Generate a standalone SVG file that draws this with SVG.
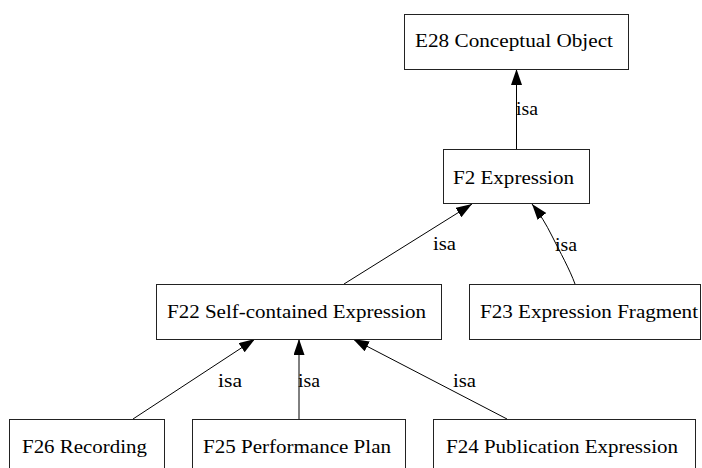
<svg xmlns="http://www.w3.org/2000/svg" width="702" height="468" viewBox="0 0 702 468">
<style>
  .box { fill: #ffffff; stroke: #222222; stroke-width: 1; }
  .lbl { font-family: "Liberation Serif", "Times New Roman", serif; font-size: 19.5px; fill: #000000; }
  .edge { fill: none; stroke: #000000; stroke-width: 1; }
  .isa { font-family: "Liberation Serif", "Times New Roman", serif; font-size: 19.5px; fill: #000000; }
</style>
<defs>
  <marker id="arr" markerUnits="userSpaceOnUse" markerWidth="17" markerHeight="12" refX="16" refY="5.5" orient="auto">
    <path d="M0,0 L16,5.5 L0,11 z" fill="#000000"/>
  </marker>
</defs>
<rect width="702" height="468" fill="#ffffff"/>
<g id="connectors">
  <line class="edge" x1="516.5" y1="149" x2="516.5" y2="69" marker-end="url(#arr)"/>
  <text class="isa" x="516" y="115" textLength="22" lengthAdjust="spacingAndGlyphs">isa</text>
  <line class="edge" x1="344" y1="284" x2="472" y2="204" marker-end="url(#arr)"/>
  <text class="isa" x="433" y="250" textLength="23" lengthAdjust="spacingAndGlyphs">isa</text>
  <path class="edge" d="M575,284 C570,270 560,252 552,236 C546,224 540,214 532,204" marker-end="url(#arr)"/>
  <text class="isa" x="555" y="251" textLength="22" lengthAdjust="spacingAndGlyphs">isa</text>
  <line class="edge" x1="133" y1="419" x2="255" y2="339" marker-end="url(#arr)"/>
  <text class="isa" x="218" y="387" textLength="24" lengthAdjust="spacingAndGlyphs">isa</text>
  <line class="edge" x1="299" y1="419" x2="299" y2="339" marker-end="url(#arr)"/>
  <text class="isa" x="298" y="387" textLength="22" lengthAdjust="spacingAndGlyphs">isa</text>
  <line class="edge" x1="507" y1="419" x2="353" y2="339" marker-end="url(#arr)"/>
  <text class="isa" x="453" y="387" textLength="23" lengthAdjust="spacingAndGlyphs">isa</text>
</g>
<g id="E28">
  <rect class="box" x="404.5" y="14.5" width="224" height="55"/>
  <text class="lbl" x="415" y="47" textLength="198" lengthAdjust="spacingAndGlyphs">E28 Conceptual Object</text>
</g>
<g id="F2">
  <rect class="box" x="443.5" y="149.5" width="146" height="54"/>
  <text class="lbl" x="453" y="184" textLength="121" lengthAdjust="spacingAndGlyphs">F2 Expression</text>
</g>
<g id="F22">
  <rect class="box" x="156.5" y="284.5" width="285" height="55"/>
  <text class="lbl" x="167" y="318" textLength="259" lengthAdjust="spacingAndGlyphs">F22 Self-contained Expression</text>
</g>
<g id="F23">
  <rect class="box" x="469.5" y="284.5" width="231" height="55"/>
  <text class="lbl" x="480" y="318" textLength="218" lengthAdjust="spacingAndGlyphs">F23 Expression Fragment</text>
</g>
<g id="F26">
  <rect class="box" x="9.5" y="419.5" width="155" height="60"/>
  <text class="lbl" x="22" y="453" textLength="125" lengthAdjust="spacingAndGlyphs">F26 Recording</text>
</g>
<g id="F25">
  <rect class="box" x="192.5" y="419.5" width="213" height="60"/>
  <text class="lbl" x="203" y="453" textLength="188" lengthAdjust="spacingAndGlyphs">F25 Performance Plan</text>
</g>
<g id="F24">
  <rect class="box" x="433.5" y="419.5" width="262" height="60"/>
  <text class="lbl" x="446" y="453" textLength="232" lengthAdjust="spacingAndGlyphs">F24 Publication Expression</text>
</g>
</svg>
